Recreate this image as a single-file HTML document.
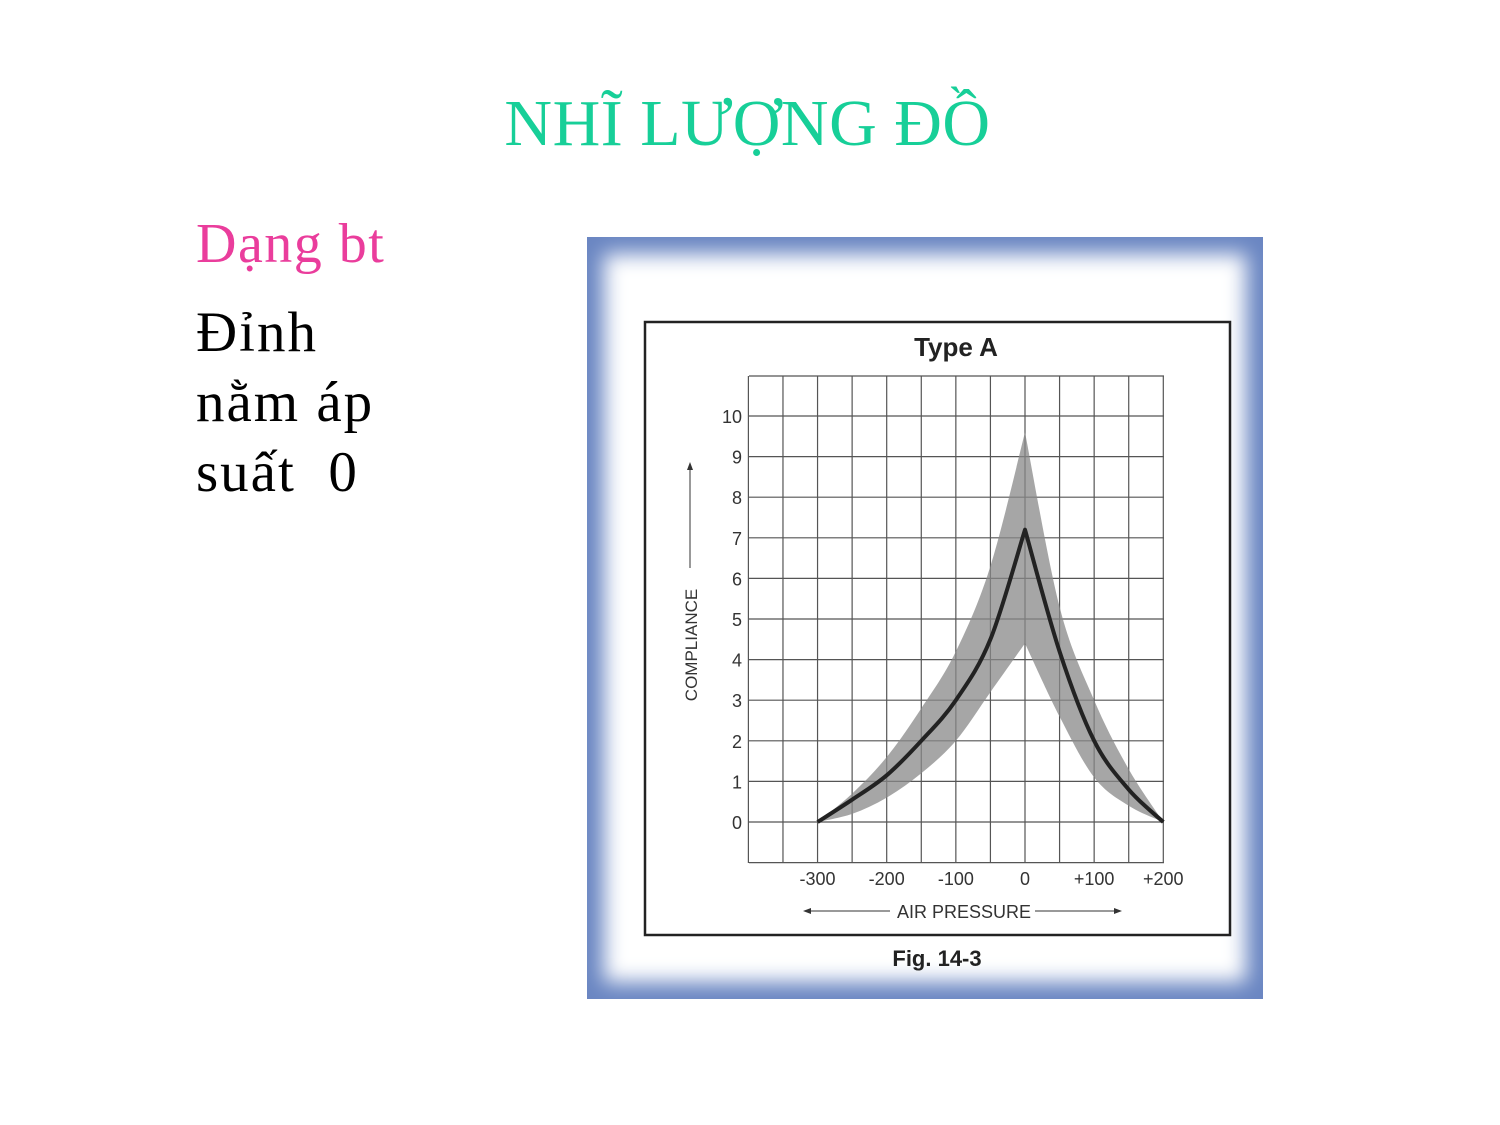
<!DOCTYPE html>
<html><head><meta charset="utf-8">
<style>
body{margin:0;width:1500px;height:1125px;background:#fff;position:relative;overflow:hidden;font-family:"Liberation Serif",serif}
.t{position:absolute;white-space:nowrap}
</style></head><body>
<div class="t" style="left:0;width:1495px;text-align:center;top:86px;font-size:66px;letter-spacing:0.5px;color:#17cf98">NHĨ LƯỢNG ĐỒ</div>
<div class="t" style="left:196px;top:212px;font-size:56px;letter-spacing:1.5px;color:#ea3d9c">Dạng bt</div>
<div class="t" style="left:196px;top:298px;font-size:57px;letter-spacing:2px;line-height:70px;color:#000">Đỉnh<br>nằm áp<br>suất&nbsp; 0</div>

<svg style="position:absolute;left:0;top:0" width="1500" height="1125">
<defs>
<filter id="b"><feGaussianBlur stdDeviation="10"/></filter>
</defs>
<rect x="587" y="237" width="676" height="762" fill="#6a86c2"/>
<rect x="604" y="254" width="642" height="728" fill="#fff" filter="url(#b)"/>
<rect x="645" y="322" width="585" height="613" fill="none" stroke="#222" stroke-width="2.5"/>
<text x="956" y="356" text-anchor="middle" font-family="Liberation Sans" font-weight="bold" font-size="26" fill="#222">Type A</text>
<text x="937" y="966" text-anchor="middle" font-family="Liberation Sans" font-weight="bold" font-size="22" fill="#222">Fig. 14-3</text>
<g id="grid"></g><g id="marks"></g><g id="labels" font-family="Liberation Sans" font-size="18" fill="#333"></g>
<text x="964" y="918" text-anchor="middle" font-family="Liberation Sans" font-size="18" fill="#333">AIR PRESSURE</text>
<line x1="805" y1="911" x2="890" y2="911" stroke="#333"/>
<path d="M803 911l8-3v6z" fill="#333"/>
<line x1="1035" y1="911" x2="1120" y2="911" stroke="#333"/>
<path d="M1122 911l-8-3v6z" fill="#333"/>
<text transform="translate(697,645) rotate(-90)" text-anchor="middle" font-family="Liberation Sans" font-size="17" fill="#333">COMPLIANCE</text>
<line x1="690" y1="568" x2="690" y2="468" stroke="#333"/>
<path d="M690 462l-3 8h6z" fill="#333"/>
</svg>
<script>
const xTicks=[-300,-200,-100,0,100,200];
const xTickLabels=["-300","-200","-100","0","+100","+200"];
const yTicks=[0,1,2,3,4,5,6,7,8,9,10];
const meanX=[-300,-250,-200,-150,-100,-50,0,50,100,150,200];
const meanY=[0,0.55,1.15,2.0,3.0,4.5,7.2,4.2,2.0,0.8,0];
const upperX=[-300,-250,-200,-150,-100,-50,0,50,100,150,200];
const upperY=[0,0.7,1.6,2.8,4.2,6.3,9.6,5.3,3.0,1.3,0];
const lowerX=[-300,-250,-200,-150,-100,-50,0,50,100,150,200];
const lowerY=[0,0.2,0.6,1.2,2.0,3.2,4.4,2.6,1.1,0.4,0];
const X=v=>1025+v*0.6915, Y=v=>822-v*40.6;
const NS="http://www.w3.org/2000/svg";
function mk(t,a,p){const e=document.createElementNS(NS,t);for(const k in a)e.setAttribute(k,a[k]);p.appendChild(e);return e;}
const grid=document.getElementById('grid');
for(let v=-400;v<=200;v+=50){const l=mk('line',{x1:X(v),x2:X(v),y1:376,y2:863,stroke:'#555','stroke-width':1.2},grid);

}
for(let v=-1;v<=11;v++){const yy=v===11?376:Y(v);const l=mk('line',{x1:749,x2:1164,y1:yy,y2:yy,stroke:'#555','stroke-width':1.2},grid);

}
function cr(pts){let s='';for(let i=0;i<pts.length-1;i++){const p0=pts[Math.max(i-1,0)],p1=pts[i],p2=pts[i+1],p3=pts[Math.min(i+2,pts.length-1)];
s+='C'+(p1[0]+(p2[0]-p0[0])/6)+' '+(p1[1]+(p2[1]-p0[1])/6)+' '+(p2[0]-(p3[0]-p1[0])/6)+' '+(p2[1]-(p3[1]-p1[1])/6)+' '+p2[0]+' '+p2[1];}return s;}
function pts(xs,ys,a,b){const r=[];for(let i=a;i<=b;i++)r.push([X(xs[i]),Y(ys[i])]);return r;}
const m=document.getElementById('marks');
const uL=pts(upperX,upperY,0,6),uR=pts(upperX,upperY,6,10),lL=pts(lowerX,lowerY,0,6),lR=pts(lowerX,lowerY,6,10);
let d='M'+uL[0].join(' ')+cr(uL)+cr(uR)+cr(lR.slice().reverse())+cr(lL.slice().reverse())+'Z';
const band=mk('path',{d:d,fill:'#888','fill-opacity':0.75},m);


const mL=pts(meanX,meanY,0,6),mR=pts(meanX,meanY,6,10);
const ml=mk('path',{d:'M'+mL[0].join(' ')+cr(mL)+cr(mR),fill:'none',stroke:'#222','stroke-width':4,'stroke-linejoin':'round'},m);


const lb=document.getElementById('labels');
xTicks.forEach((v,i)=>{const t=mk('text',{x:X(v),y:885,'text-anchor':'middle'},lb);t.textContent=xTickLabels[i];

});
yTicks.forEach(v=>{const t=mk('text',{x:742,y:Y(v)+7,'text-anchor':'end'},lb);t.textContent=v;

});
</script>
</body></html>
